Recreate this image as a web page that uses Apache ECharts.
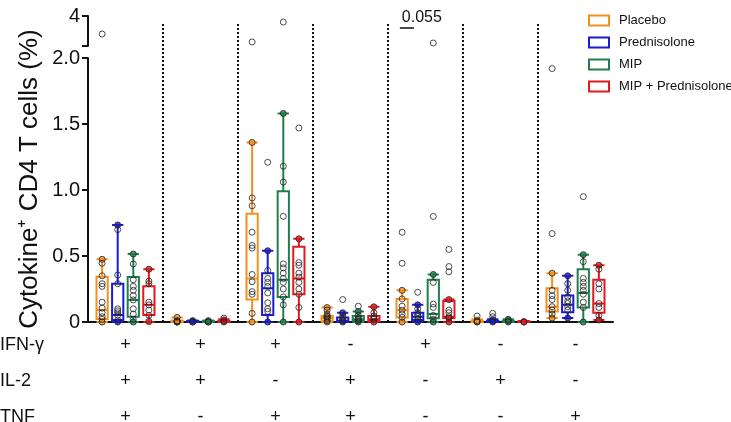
<!DOCTYPE html>
<html>
<head>
<meta charset="utf-8">
<script src="https://cdn.jsdelivr.net/npm/echarts@6/dist/echarts.min.js"></script>
<style>
  html, body { margin: 0; padding: 0; background: #fff; }
  #chart { width: 731px; height: 422px; }
</style>
</head>
<body>
<div id="chart"></div>
<script>
const seriesNames = ['Placebo', 'Prednisolone', 'MIP', 'MIP + Prednisolone']
const colors = ['#F4901E', '#1B1BD2', '#1F7F4C', '#E3191E']

// cytokine combination table under the axis
const ifng = ['+', '+', '+', '-', '+', '-', '-']
const il2 = ['+', '+', '-', '+', '-', '+', '-']
const tnf = ['+', '-', '+', '+', '-', '-', '+']
const categories = ifng.map((v, i) => v + il2[i] + tnf[i])
const rowLabels = ['IFN-γ', 'IL-2', 'TNF']

// box stats per group: [min, Q1, median, Q3, max]
const placeboBox = [
  [0, 0.023, 0.09, 0.343, 0.475], [0, 0, 0.005, 0.012, 0.035], [0, 0.17, 0.33, 0.82, 1.36],
  [0, 0.005, 0.03, 0.045, 0.11], [0, 0.035, 0.09, 0.175, 0.24], [0, 0, 0.003, 0.01, 0.02],
  [0.03, 0.08, 0.115, 0.255, 0.37]
]
const predBox = [
  [0, 0.015, 0.053, 0.29, 0.735], [0, 0, 0.003, 0.008, 0.012], [0, 0.053, 0.255, 0.37, 0.54],
  [0, 0, 0.01, 0.035, 0.07], [0, 0.015, 0.04, 0.07, 0.13], [0, 0, 0.003, 0.01, 0.02],
  [0.03, 0.073, 0.13, 0.2, 0.35]
]
const mipBox = [
  [0, 0.04, 0.167, 0.34, 0.515], [0, 0, 0.003, 0.008, 0.012], [0, 0.19, 0.32, 0.99, 1.58],
  [0, 0.005, 0.02, 0.045, 0.08], [0, 0.028, 0.06, 0.32, 0.36], [0, 0, 0.005, 0.01, 0.02],
  [0, 0.11, 0.22, 0.40, 0.51]
]
const comboBox = [
  [0, 0.053, 0.13, 0.27, 0.40], [0, 0, 0.005, 0.01, 0.02], [0, 0.21, 0.33, 0.57, 0.63],
  [0, 0.005, 0.02, 0.045, 0.115], [0, 0.03, 0.04, 0.16, 0.17], [0, 0, 0.002, 0.005, 0.008],
  [0.015, 0.07, 0.14, 0.32, 0.43]
]

// individual subjects per group
const placeboPts = [
  [0.475, 0.445, 0.35, 0.29, 0.27, 0.15, 0.105, 0.07, 0.04, 0.02, 0, 2.8],
  [0.035, 0.01, 0.005, 0, 0, 0],
  [1.36, 0.94, 0.88, 0.68, 0.58, 0.56, 0.36, 0.305, 0.23, 0.21, 0.065, 0, 2.27],
  [0.11, 0.09, 0.06, 0.045, 0.04, 0.03, 0.02, 0.01, 0],
  [0.68, 0.445, 0.24, 0.175, 0.12, 0.09, 0.06, 0.035, 0],
  [0.045, 0.01, 0, 0],
  [1.92, 0.67, 0.37, 0.24, 0.2, 0.17, 0.116, 0.09, 0.06, 0.03]
]
const predPts = [
  [0.735, 0.70, 0.356, 0.29, 0.10, 0.085, 0.07, 0.05, 0.015, 0],
  [0.01, 0, 0],
  [1.21, 0.54, 0.39, 0.33, 0.30, 0.27, 0.22, 0.146, 0.10, 0.08, 0],
  [0.17, 0.07, 0.05, 0.035, 0.02, 0.01, 0],
  [0.225, 0.13, 0.1, 0.07, 0.05, 0.04, 0.02, 0],
  [0.066, 0.04, 0.01, 0],
  [0.35, 0.29, 0.24, 0.19, 0.16, 0.14, 0.116, 0.09, 0.03]
]
const mipPts = [
  [0.515, 0.44, 0.32, 0.27, 0.24, 0.2, 0.167, 0.1, 0.06, 0.02, 0],
  [0.01, 0, 0],
  [3.6, 1.58, 1.18, 1.06, 0.80, 0.44, 0.41, 0.37, 0.33, 0.30, 0.25, 0.19, 0.13, 0],
  [0.12, 0.08, 0.05, 0.03, 0.02, 0.01, 0],
  [2.2, 0.80, 0.36, 0.30, 0.136, 0.11, 0.05, 0.02, 0],
  [0.02, 0.01, 0],
  [0.95, 0.51, 0.457, 0.33, 0.30, 0.27, 0.24, 0.21, 0.15, 0.11, 0]
]
const comboPts = [
  [0.40, 0.31, 0.29, 0.15, 0.13, 0.09, 0.05, 0.005],
  [0.03, 0.01, 0],
  [1.47, 0.63, 0.45, 0.43, 0.37, 0.34, 0.30, 0.25, 0.21, 0.11, 0],
  [0.115, 0.07, 0.045, 0.03, 0.02, 0],
  [0.55, 0.42, 0.38, 0.17, 0.09, 0.07, 0.04, 0.03, 0],
  [0, 0],
  [0.43, 0.40, 0.29, 0.25, 0.14, 0.11, 0.05, 0.015]
]

const yTicks = [0, 0.5, 1.0, 1.5, 2.0]
const pValue = '0.055'

const boxes = [placeboBox, predBox, mipBox, comboBox]
const points = [placeboPts, predPts, mipPts, comboPts]
const breakAt = 2

// same offsets ECharts uses to place 4 boxplots inside one band
const gridLeft = 88, gridWidth = 525
const band = gridWidth / categories.length
const avail = band * 0.8 - 2
const gap = avail / 4 * 0.3
const bw = (avail - gap * 3) / 4
const offsets = [0, 1, 2, 3].map(i => (bw / 2 - avail / 2 + i * (gap + bw)) / band)
const xPos = (g, s) => g + 0.5 + offsets[s]

const font = "'Liberation Sans', Arial, Helvetica, sans-serif"
const black = '#111'

const chart = echarts.init(document.getElementById('chart'))

const series = []
boxes.forEach((b, s) => {
  series.push({
    name: seriesNames[s],
    type: 'boxplot',
    xAxisIndex: 0,
    yAxisIndex: 0,
    z: 2,
    itemStyle: { color: 'rgba(255,255,255,0)', borderColor: colors[s], borderWidth: 2 },
    emphasis: { disabled: true },
    data: b
  })
})
boxes.forEach((b, s) => {
  const ends = []
  b.forEach((d, g) => { ends.push([xPos(g, s), d[0]]); ends.push([xPos(g, s), d[4]]) })
  series.push({
    type: 'scatter',
    xAxisIndex: 1,
    yAxisIndex: 0,
    z: 3,
    symbolSize: 6,
    itemStyle: { color: colors[s] },
    silent: true,
    data: ends
  })
})
points.forEach((p, s) => {
  const low = [], high = []
  p.forEach((vals, g) => vals.forEach(v => {
    (v > breakAt ? high : low).push([xPos(g, s), v])
  }))
  const style = { color: 'rgba(0,0,0,0)', borderColor: '#222', borderWidth: 1 }
  series.push({
    type: 'scatter', xAxisIndex: 1, yAxisIndex: 0, z: 4,
    symbolSize: 6, itemStyle: style, silent: true, data: low
  })
  series.push({
    type: 'scatter', xAxisIndex: 2, yAxisIndex: 1, z: 4,
    symbolSize: 6, itemStyle: style, silent: true, data: high
  })
})

// dotted separators between groups
series.push({
  type: 'line',
  xAxisIndex: 3,
  yAxisIndex: 2,
  z: 1,
  showSymbol: false,
  lineStyle: { opacity: 0 },
  data: [[0, 0]],
  markLine: {
    silent: true,
    symbol: 'none',
    label: { show: false },
    lineStyle: { type: [2, 2], color: black, width: 2 },
    data: categories.slice(1).map((c, i) => ({ xAxis: i + 1 }))
  }
})

// p-value between Placebo and Prednisolone in group 5
series.push({
  type: 'line',
  xAxisIndex: 2,
  yAxisIndex: 1,
  showSymbol: false,
  lineStyle: { opacity: 0 },
  data: [[0, 3]],
  markLine: {
    silent: true,
    symbol: 'none',
    lineStyle: { type: 'solid', color: black, width: 1.5 },
    label: {
      show: true, position: 'insideStartTop', distance: 2,
      formatter: pValue, fontSize: 16, color: black, fontFamily: font
    },
    data: [[{ coord: [xPos(4, 0) - 0.03, 3.2] }, { coord: [xPos(4, 1) - 0.05, 3.2] }]]
  }
})

const hiddenValueX = (grid) => ({
  type: 'value', gridIndex: grid, min: 0, max: categories.length, show: false
})

const options = {
  animation: false,
  textStyle: { fontFamily: font },
  grid: [
    { left: gridLeft, width: gridWidth, top: 58, height: 264, outerBoundsMode: 'none' },
    { left: gridLeft, width: gridWidth, top: 16, height: 30, outerBoundsMode: 'none' },
    { left: gridLeft, width: gridWidth, top: 23, height: 299, outerBoundsMode: 'none' }
  ],
  legend: {
    orient: 'vertical',
    left: 583,
    top: 9,
    icon: 'rect',
    itemWidth: 20,
    itemHeight: 10,
    itemGap: 9,
    selectedMode: false,
    textStyle: { fontSize: 13, color: black, padding: [0, 0, 0, 5] },
    data: seriesNames.map((n, i) => ({
      name: n,
      itemStyle: { color: '#fff', borderColor: colors[i], borderWidth: 2 }
    }))
  },
  xAxis: [
    {
      type: 'category',
      gridIndex: 0,
      data: categories,
      axisLine: { lineStyle: { color: black, width: 2 } },
      axisTick: { alignWithLabel: true, length: 6, lineStyle: { color: black, width: 2 } },
      axisLabel: {
        interval: 0,
        margin: 5,
        fontSize: 18,
        lineHeight: 36,
        color: black,
        formatter: (v, i) => ifng[i] + '\n' + il2[i] + '\n' + tnf[i]
      }
    },
    hiddenValueX(0),
    hiddenValueX(1),
    hiddenValueX(2)
  ],
  yAxis: [
    {
      type: 'value',
      gridIndex: 0,
      min: yTicks[0],
      max: yTicks[yTicks.length - 1],
      interval: 0.5,
      splitLine: { show: false },
      axisLine: { show: true, lineStyle: { color: black, width: 2 } },
      axisTick: { show: true, length: 6, lineStyle: { color: black, width: 2 } },
      axisLabel: {
        margin: 8, fontSize: 20, color: black,
        formatter: v => (v === 0 ? '0' : v.toFixed(1))
      }
    },
    {
      type: 'value',
      gridIndex: 1,
      min: 2,
      max: 4,
      interval: 2,
      splitLine: { show: false },
      axisLine: { show: true, lineStyle: { color: black, width: 2 } },
      axisTick: { show: true, length: 6, lineStyle: { color: black, width: 2 } },
      axisLabel: {
        margin: 8, fontSize: 20, color: black,
        formatter: v => (v === 4 ? '4' : '')
      }
    },
    { type: 'value', gridIndex: 2, min: 0, max: 1, show: false }
  ],
  graphic: [
    {
      type: 'text',
      x: 30,
      y: 179,
      rotation: Math.PI / 2,
      style: {
        text: 'Cytokine⁺ CD4 T cells (%)',
        fontSize: 26,
        fontFamily: font,
        fill: black,
        align: 'center',
        verticalAlign: 'middle'
      }
    },
    ...rowLabels.map((t, i) => ({
      type: 'text',
      x: 0,
      y: 345 + i * 36,
      style: { text: t, fontSize: 18, fontFamily: font, fill: black, verticalAlign: 'middle' }
    }))
  ],
  series
}

chart.setOption(options)
</script>
</body>
</html>
